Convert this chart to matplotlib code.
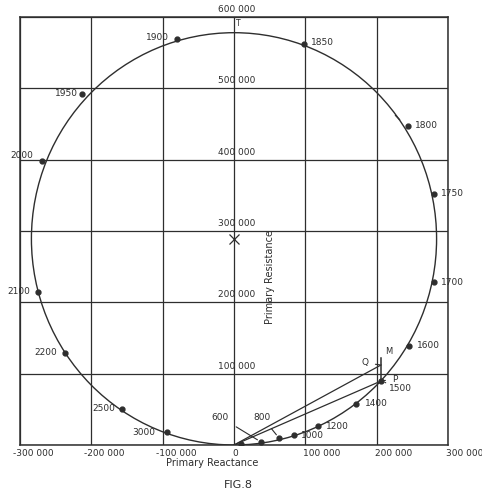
import matplotlib
matplotlib.use('Agg')
import matplotlib.pyplot as plt
from matplotlib.patches import Ellipse

# speed points on the circle diagram (primary reactance, primary resistance)
speeds = ['600', '800', '1000', '1200', '1400', '1500', '1600', '1700', '1750',
          '1800', '1850', '1900', '1950', '2000', '2100', '2200', '2500', '3000']
reactance = [37900, 63100, 84100, 117800, 171000, 206100, 245300, 280400, 280400,
             243900, 98100, -79900, -213100, -269200, -274800, -236900, -157000, -93900]
resistance = [4200, 9800, 14000, 26600, 57500, 89700, 138800, 228500, 351900,
              447200, 562200, 569200, 492100, 398100, 214500, 129000, 50500, 18200]

x_ticks = [-300000, -200000, -100000, 0, 100000, 200000, 300000]
x_tick_labels = ['-300 000', '-200 000', '-100 000', '0', '100 000', '200 000', '300 000']
y_ticks = [0, 100000, 200000, 300000, 400000, 500000, 600000]
y_tick_labels = ['', '100 000', '200 000', '300 000', '400 000', '500 000', '600 000']

# circle: centre and diameters
centre = (0, 289000)
diam_x, diam_y = 568000, 578000

# construction points
point_q = (206100, 112200)
point_m = (206100, 122000)
point_t = (0, 578000)
mark_1800 = (229000, 459800)

ink = '#2e2e2e'

fig = plt.figure(figsize=(4.82, 4.95), dpi=100)
ax = fig.add_axes([20 / 482, 50 / 495, 428 / 482, 428 / 495])
ax.set_xlim(-300000, 300000)
ax.set_ylim(0, 600000)
ax.set_xticks(x_ticks)
ax.set_yticks(y_ticks)
ax.tick_params(length=0, labelbottom=False, labelleft=False)
ax.grid(True, color=ink, lw=0.9)
for s in ax.spines.values():
    s.set_color(ink)
    s.set_linewidth(1.1)

ax.add_patch(Ellipse(centre, diam_x, diam_y, fill=False, ec=ink, lw=1.0))
ax.plot([centre[0]], [centre[1]], 'x', ms=7, mew=0.9, color=ink)
ax.plot([mark_1800[0]], [mark_1800[1]], marker=(2, 0, 45), ms=5, mew=0.9, color=ink)

ax.plot(reactance, resistance, 'o', ms=3.5, color=ink)
ax.plot([9800], [2000], 'o', ms=3.5, color=ink)

# label offsets in pixels (dx, dy)
offsets = [(-41, 25), (-17, 21), (18, 0), (19, 0), (20, 0), (19, -7), (19, 0),
           (18, 0), (18, 0), (18, 0), (18, 1), (-20, 1), (-16, 0), (-20, 6),
           (-19, 0), (-19, 0), (-18, 0), (-23, 0)]
for name, x, y, off in zip(speeds, reactance, resistance, offsets):
    arrow = None
    if name in ('600', '800', '1500'):
        arrow = dict(arrowstyle='-', color=ink, lw=0.8, shrinkA=4, shrinkB=3)
    ax.annotate(name, (x, y), xytext=off, textcoords='offset pixels',
                ha='center', va='center', fontsize=6.5, color=ink,
                arrowprops=arrow)

# lines from the origin to P and Q, and the P-M ordinate
i_p = speeds.index('1500')
p = (reactance[i_p], resistance[i_p])
ax.plot([0, point_q[0]], [0, point_q[1]], color=ink, lw=0.9)
ax.plot([0, p[0]], [0, p[1]], color=ink, lw=0.9)
ax.plot([p[0], point_m[0]], [p[1], point_m[1]], color=ink, lw=1.1)

ax.annotate('P', p, xytext=(14, 2), textcoords='offset pixels', ha='center',
            va='center', fontsize=6.5, color=ink,
            arrowprops=dict(arrowstyle='-', color=ink, lw=0.8, shrinkA=3, shrinkB=2))
ax.annotate('Q', point_q, xytext=(-16, 2), textcoords='offset pixels', ha='center',
            va='center', fontsize=6.5, color=ink,
            arrowprops=dict(arrowstyle='-', color=ink, lw=0.8, shrinkA=3, shrinkB=1))
ax.annotate('M', point_m, xytext=(8, 6), textcoords='offset pixels', ha='center',
            va='center', fontsize=6, color=ink)
ax.annotate('T', point_t, xytext=(4, 9), textcoords='offset pixels', ha='center',
            va='center', fontsize=5.5, color=ink)

# tick labels drawn on the chart
for v, lab in zip(y_ticks, y_tick_labels):
    ax.annotate(lab, (0, v), xytext=(3, 3), textcoords='offset pixels',
                ha='center', va='bottom', fontsize=6.5, color=ink,
                annotation_clip=False)
for v, lab in zip(x_ticks, x_tick_labels):
    dx = -7 if v < 0 else -2
    ax.annotate(lab, (v, 0), xytext=(dx, -8), textcoords='offset pixels',
                ha='left', va='center', fontsize=6.5, color=ink,
                annotation_clip=False)

ax.annotate('Primary Reactance', (-30800, 0), xytext=(0, -18),
            textcoords='offset pixels', ha='center', va='center',
            fontsize=7, color=ink, annotation_clip=False)
ax.text(50500, 235500, 'Primary Resistance', rotation=90, ha='center',
        va='center', fontsize=7, color=ink)
fig.text(238 / 482, 1 - 485 / 495, 'FIG.8', ha='center', va='center',
         fontsize=8, color=ink)

fig.savefig('out.png', dpi=100)
